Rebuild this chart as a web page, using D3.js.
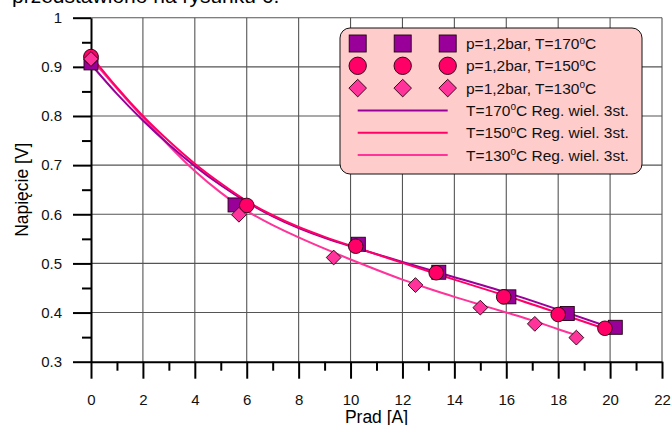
<!DOCTYPE html>
<html>
<head>
<meta charset="utf-8">
<script src="https://cdn.jsdelivr.net/npm/d3@7"></script>
<style>
  body { margin: 0; background: #fff; }
  svg { display: block; font-family: "Liberation Sans", Arial, sans-serif; }
</style>
</head>
<body>
<svg id="chart" width="672" height="425"></svg>
<script>
// measured points
const pts170 = [[0, 0.908], [5.55, 0.619], [10.3, 0.539], [13.4, 0.482], [16.1, 0.432], [18.35, 0.398], [20.2, 0.370]];
const pts150 = [[0, 0.921], [6.0, 0.618], [10.2, 0.535], [13.3, 0.481], [15.9, 0.432], [18.0, 0.396], [19.8, 0.368]];
const pts130 = [[0, 0.916], [5.7, 0.599], [9.35, 0.512], [12.5, 0.456], [15.0, 0.410], [17.1, 0.377], [18.7, 0.349]];

// regression curves
const fit170 = [[0, 0.905], [1, 0.845], [2, 0.791], [3, 0.742], [4, 0.698], [5, 0.659], [6, 0.625], [7, 0.596],
  [8, 0.572], [9, 0.552], [10, 0.535], [12, 0.503], [14, 0.472], [16, 0.441], [18, 0.406], [20.2, 0.366]];
const fit150 = [[0, 0.922], [1, 0.858], [2, 0.800], [3, 0.749], [4, 0.703], [5, 0.663], [6, 0.627], [7, 0.598],
  [8, 0.574], [9, 0.554], [10, 0.536], [12, 0.501], [14, 0.467], [16, 0.434], [18, 0.399], [19.8, 0.367]];
const fit130 = [[0, 0.917], [1, 0.856], [2, 0.797], [3, 0.740], [4, 0.688], [5, 0.644], [6, 0.607], [7, 0.578],
  [8, 0.553], [9, 0.530], [10, 0.508], [11, 0.487], [12, 0.467], [13, 0.449], [14, 0.432], [15, 0.416],
  [16, 0.400], [17, 0.384], [18, 0.366], [18.7, 0.354]];

const xTicks = [0, 2, 4, 6, 8, 10, 12, 14, 16, 18, 20, 22];
const xMinor = [1, 3, 5, 7, 9, 11, 13, 15, 17, 19, 21];
const yTicks = [0.3, 0.4, 0.5, 0.6, 0.7, 0.8, 0.9, 1];
const yMinor = [0.35, 0.45, 0.55, 0.65, 0.75, 0.85, 0.95];

const legendMarkers = ['p=1,2bar, T=170', 'p=1,2bar, T=150', 'p=1,2bar, T=130'];
const legendLines = ['T=170', 'T=150', 'T=130'];

const purple = '#990099', red = '#ff0066', pink = '#ff3399';

const svg = d3.select('#chart');
const x = d3.scaleLinear().domain([0, 22]).range([91, 662]);
const y = d3.scaleLinear().domain([0.3, 1]).range([361.7, 17.7]);

// page text cut off at the top
svg.append('text')
  .attr('x', 12).attr('y', 2.5)
  .attr('font-size', 21)
  .text('przedstawiono na rysunku 6.');

// grid
const grid = svg.append('g').attr('stroke', '#555').attr('stroke-width', 1.1);
grid.selectAll('line.v').data(xTicks.slice(1)).enter().append('line')
  .attr('x1', d => x(d)).attr('x2', d => x(d))
  .attr('y1', y(1)).attr('y2', y(0.3));
grid.selectAll('line.h').data(yTicks.slice(1)).enter().append('line')
  .attr('x1', x(0)).attr('x2', x(22))
  .attr('y1', d => y(d)).attr('y2', d => y(d));

// axes
svg.append('g')
  .attr('transform', `translate(0,${y(0.3)})`)
  .call(d3.axisBottom(x).tickValues(xTicks).tickSize(17).tickSizeOuter(0).tickPadding(15.5));
svg.append('g')
  .attr('transform', `translate(0,${y(0.3)})`)
  .call(d3.axisBottom(x).tickValues(xMinor).tickSize(9).tickFormat(''))
  .select('.domain').remove();

svg.append('g')
  .attr('transform', `translate(${x(0)},0)`)
  .call(d3.axisLeft(y).tickValues(yTicks).tickSize(18).tickSizeOuter(0).tickPadding(11)
    .tickFormat(d => d === 1 ? '1' : d3.format('.1f')(d)));
svg.append('g')
  .attr('transform', `translate(${x(0)},0)`)
  .call(d3.axisLeft(y).tickValues(yMinor).tickSize(9).tickFormat(''))
  .select('.domain').remove();

svg.selectAll('.tick line').attr('stroke', '#000').attr('stroke-width', 2);
svg.selectAll('.domain').attr('stroke', '#000').attr('stroke-width', 2);
svg.selectAll('.tick text')
  .attr('font-size', 15)
  .attr('font-family', '"Liberation Sans", Arial, sans-serif')
  .attr('fill', '#111');

// axis titles
svg.append('text')
  .attr('x', (x(0) + x(22)) / 2).attr('y', 423)
  .attr('text-anchor', 'middle').attr('font-size', 17.5)
  .text('Prad [A]');
svg.append('text')
  .attr('transform', `translate(28,${(y(0.3) + y(1)) / 2}) rotate(-90)`)
  .attr('text-anchor', 'middle').attr('font-size', 17.5)
  .text('Napięcie [V]');

// regression curves
const line = d3.line().x(d => x(d[0])).y(d => y(d[1])).curve(d3.curveNatural);
[[fit130, pink], [fit170, purple], [fit150, red]].forEach(([data, c]) => {
  svg.append('path').datum(data)
    .attr('d', line)
    .attr('fill', 'none').attr('stroke', c).attr('stroke-width', 2);
});

// markers
function square(g, cx, cy, s) {
  g.append('rect').attr('x', cx - s / 2).attr('y', cy - s / 2).attr('width', s).attr('height', s)
    .attr('fill', purple).attr('stroke', '#220011').attr('stroke-width', 0.9);
}
function circle(g, cx, cy, r) {
  g.append('circle').attr('cx', cx).attr('cy', cy).attr('r', r)
    .attr('fill', red).attr('stroke', '#220011').attr('stroke-width', 0.9);
}
function diamond(g, cx, cy, h) {
  g.append('path').attr('d', `M${cx},${cy - h}L${cx + h},${cy}L${cx},${cy + h}L${cx - h},${cy}Z`)
    .attr('fill', pink).attr('stroke', '#220011').attr('stroke-width', 0.9);
}

const marks = svg.append('g');
pts170.forEach(d => square(marks, x(d[0]), y(d[1]), 14));
pts150.forEach(d => circle(marks, x(d[0]), y(d[1]), 7.3));
pts130.forEach(d => diamond(marks, x(d[0]), y(d[1]), 7.4));

// legend
const lg = svg.append('g');
lg.append('rect')
  .attr('x', 340).attr('y', 28).attr('width', 302).attr('height', 146)
  .attr('rx', 10).attr('ry', 10)
  .attr('fill', '#ffcccc').attr('stroke', '#111').attr('stroke-width', 1);

const rowY = i => 43.5 + i * 22.3;
const markX = [357.7, 402.7, 447.7];
const drawers = [
  (cx, cy) => square(lg, cx, cy, 17),
  (cx, cy) => circle(lg, cx, cy, 8.7),
  (cx, cy) => diamond(lg, cx, cy, 8.8)
];

function label(txt, cy, suffix) {
  const t = lg.append('text').attr('x', 466).attr('y', cy).attr('dy', '0.36em')
    .attr('font-size', 15.5).attr('fill', '#111');
  t.append('tspan').text(txt);
  t.append('tspan').attr('font-size', 10).attr('dy', '-0.55em').text('o');
  t.append('tspan').attr('dy', '0.35em').text('C' + suffix);
}

legendMarkers.forEach((txt, i) => {
  markX.forEach(mx => drawers[i](mx, rowY(i)));
  label(txt, rowY(i), '');
});

const lineColors = [purple, red, pink];
legendLines.forEach((txt, i) => {
  const cy = rowY(i + 3);
  lg.append('line').attr('x1', 357.7).attr('x2', 447.7).attr('y1', cy).attr('y2', cy)
    .attr('stroke', lineColors[i]).attr('stroke-width', 2);
  label(txt, cy, ' Reg. wiel. 3st.');
});
</script>
</body>
</html>
